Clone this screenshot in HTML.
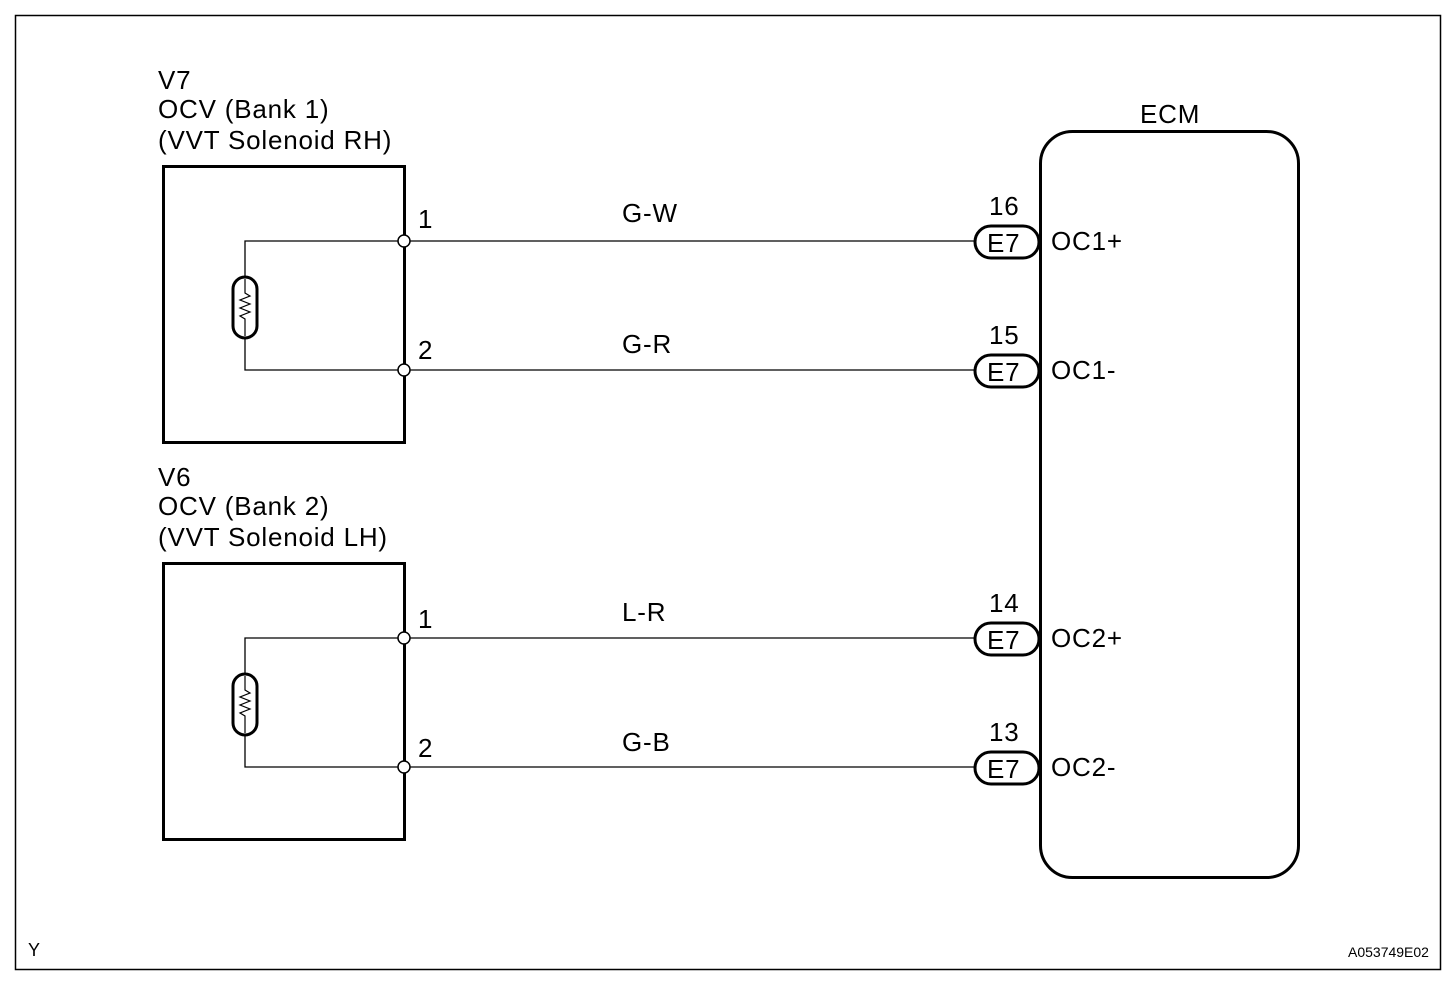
<!DOCTYPE html>
<html><head><style>
html,body{margin:0;padding:0;background:#fff}
svg text{font-family:"Liberation Sans",Arial,sans-serif;fill:#000}
</style></head><body>
<svg width="1456" height="988" viewBox="0 0 1456 988" xmlns="http://www.w3.org/2000/svg">
<rect x="15.5" y="15.5" width="1425" height="954" fill="none" stroke="#000" stroke-width="1.5"/>
<g font-size="26" letter-spacing="0.8">
<text x="158" y="89">V7</text>
<text x="158" y="118">OCV (Bank 1)</text>
<text x="158" y="149">(VVT Solenoid RH)</text>
<text x="158" y="486">V6</text>
<text x="158" y="515">OCV (Bank 2)</text>
<text x="158" y="546">(VVT Solenoid LH)</text>
<text x="1140" y="123">ECM</text>
</g>
<rect x="1040.5" y="131.5" width="258" height="746" rx="32" fill="none" stroke="#000" stroke-width="3"/>
<g id="c1">
<rect x="163.5" y="166.5" width="241" height="276" fill="none" stroke="#000" stroke-width="3"/>
<polyline points="404,241 245,241 245,370 404,370" fill="none" stroke="#000" stroke-width="1.3"/>
<rect x="233" y="277" width="24" height="61" rx="12" fill="#fff" stroke="#000" stroke-width="3"/>
<polyline points="245,279 245,293 250,296 240,300 250,304 240,308 250,312 240,316 245,319 245,336" fill="none" stroke="#000" stroke-width="1.2"/>
</g>
<use href="#c1" y="397"/>
<g stroke="#000" stroke-width="1.3">
<line x1="410" y1="241" x2="976" y2="241"/><line x1="410" y1="370" x2="976" y2="370"/>
<line x1="410" y1="638" x2="976" y2="638"/><line x1="410" y1="767" x2="976" y2="767"/>
</g>
<g fill="#fff" stroke="#000" stroke-width="1.5">
<circle cx="404" cy="241" r="6"/><circle cx="404" cy="370" r="6"/>
<circle cx="404" cy="638" r="6"/><circle cx="404" cy="767" r="6"/>
</g>
<g fill="#fff" stroke="#000" stroke-width="3">
<rect x="975" y="226" width="64" height="32" rx="16"/>
<rect x="975" y="355" width="64" height="32" rx="16"/>
<rect x="975" y="623" width="64" height="32" rx="16"/>
<rect x="975" y="752" width="64" height="32" rx="16"/>
</g>
<g font-size="26" letter-spacing="0.8">
<text x="418" y="228">1</text><text x="418" y="359">2</text>
<text x="418" y="628">1</text><text x="418" y="757">2</text>
<text x="622" y="222">G-W</text><text x="622" y="353">G-R</text>
<text x="622" y="621">L-R</text><text x="622" y="751">G-B</text>
<text x="989" y="215">16</text><text x="989" y="344">15</text>
<text x="989" y="612">14</text><text x="989" y="741">13</text>
<text x="987" y="252">E7</text><text x="987" y="381">E7</text>
<text x="987" y="649">E7</text><text x="987" y="778">E7</text>
<text x="1051" y="250">OC1+</text><text x="1051" y="379">OC1-</text>
<text x="1051" y="647">OC2+</text><text x="1051" y="776">OC2-</text>
</g>
<text x="28" y="956" font-size="18">Y</text>
<text x="1348" y="957" font-size="14">A053749E02</text>
</svg>
</body></html>
